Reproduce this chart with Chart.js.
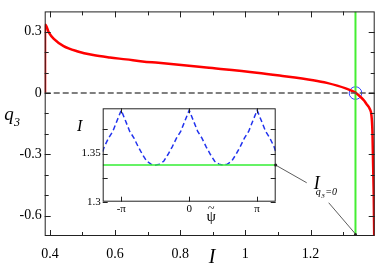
<!DOCTYPE html>
<html>
<head>
<meta charset="utf-8">
<script src="https://cdn.jsdelivr.net/npm/chart.js@4.4.0/dist/chart.umd.min.js"></script>
<style>
  html, body { margin: 0; padding: 0; background: #fff; }
  #wrap { position: relative; width: 382px; height: 266px; }
  canvas { position: absolute; left: 0; top: 0; }
</style>
</head>
<body>
<div id="wrap">
  <canvas id="mainChart" width="382" height="266"></canvas>
  <canvas id="insetChart" width="382" height="266"></canvas>
</div>
<script>
// main panel: q3 versus I
const mainI = [0.385, 0.385, 0.386, 0.397, 0.412, 0.442, 0.483, 0.533, 0.584, 0.634, 0.684, 0.733, 0.88, 1.035, 1.105, 1.208, 1.25, 1.308, 1.338, 1.353, 1.365, 1.372, 1.382, 1.387, 1.390, 1.392, 1.394, 1.3955];
const mainQ = [0.0, 0.31, 0.335, 0.296, 0.265, 0.230, 0.205, 0.186, 0.174, 0.165, 0.155, 0.148, 0.125, 0.100, 0.086, 0.063, 0.050, 0.023, 0.002, -0.018, -0.038, -0.054, -0.078, -0.109, -0.187, -0.343, -0.497, -0.70];
const iZero = 1.338;

const xMajor = [0.4, 0.6, 0.8, 1.0, 1.2];
const xMinor = [0.5, 0.7, 0.9, 1.1, 1.3];
const yMajor = [0.3, 0, -0.3, -0.6];
const yMinor = [0.2, 0.1, -0.1, -0.2, -0.4, -0.5];

// inset: I versus psi
const psi = [-4.0, -3.927, -3.731, -3.534, -3.338, -3.142, -2.945, -2.749, -2.553, -2.356, -2.160, -1.963, -1.767, -1.571, -1.374, -1.178, -0.982, -0.785, -0.589, -0.393, -0.196, 0,
  0.196, 0.393, 0.589, 0.785, 0.982, 1.178, 1.374, 1.571, 1.767, 1.963, 2.160, 2.356, 2.553, 2.749, 2.945, 3.142, 3.338, 3.534, 3.731, 3.927, 4.0];
const insetI = [1.352, 1.357, 1.366, 1.373, 1.384, 1.395, 1.384, 1.373, 1.366, 1.357, 1.349, 1.342, 1.339, 1.338, 1.339, 1.342, 1.349, 1.357, 1.366, 1.373, 1.384, 1.395,
  1.384, 1.373, 1.366, 1.357, 1.349, 1.342, 1.339, 1.338, 1.339, 1.342, 1.349, 1.357, 1.366, 1.373, 1.384, 1.395, 1.384, 1.373, 1.366, 1.357, 1.352];

const psiTicks = [-Math.PI, 0, Math.PI];
const psiLabels = ["-\u03c0", "0", "\u03c0"];
const insetYMajor = [1.3, 1.35];
const insetYMinor = [1.325, 1.375];

const serif = "'Liberation Serif', 'DejaVu Serif', serif";

// draws the frame and inward tick marks on all four sides
function frameTicks(chart, xs, ys, bigLen, smallLen) {
  const ctx = chart.ctx;
  const a = chart.chartArea;
  const sx = chart.scales.x, sy = chart.scales.y;
  ctx.save();
  ctx.strokeStyle = "#222";
  ctx.lineWidth = 1;
  ctx.strokeRect(a.left + 0.5, a.top + 0.5, a.right - a.left - 1, a.bottom - a.top - 1);
  ctx.beginPath();
  xs.forEach(([v, big]) => {
    const px = Math.round(sx.getPixelForValue(v)) + 0.5;
    const l = big ? bigLen : smallLen;
    ctx.moveTo(px, a.bottom); ctx.lineTo(px, a.bottom - l);
    ctx.moveTo(px, a.top); ctx.lineTo(px, a.top + l);
  });
  ys.forEach(([v, big]) => {
    const py = Math.round(sy.getPixelForValue(v)) + 0.5;
    const l = big ? bigLen : smallLen;
    ctx.moveTo(a.left, py); ctx.lineTo(a.left + l, py);
    ctx.moveTo(a.right, py); ctx.lineTo(a.right - l, py);
  });
  ctx.stroke();
  ctx.restore();
}

const mainFrame = {
  id: "mainFrame",
  afterDraw(chart) {
    frameTicks(chart,
      xMajor.map(v => [v, true]).concat(xMinor.map(v => [v, false])),
      yMajor.map(v => [v, true]).concat(yMinor.map(v => [v, false])), 6, 4);
    const ctx = chart.ctx;
    ctx.save();
    ctx.fillStyle = "#000";
    ctx.textAlign = "center";
    ctx.textBaseline = "middle";
    ctx.font = "italic 20px " + serif;
    ctx.fillText("I", 212, 258);
    ctx.font = "italic 19px " + serif;
    ctx.fillText("q", 9, 115);
    ctx.font = "italic 12px " + serif;
    ctx.fillText("3", 17, 123);
    ctx.restore();
  }
};

const mainChart = new Chart(document.getElementById("mainChart"), {
  type: "scatter",
  data: {
    datasets: [
      {
        data: [{ x: 0.384, y: 0 }, { x: 1.397, y: 0 }],
        showLine: true, borderColor: "#555", borderWidth: 1.5, borderDash: [6, 3],
        pointRadius: 0
      },
      {
        data: mainI.map((v, i) => ({ x: v, y: mainQ[i] })),
        showLine: true, borderColor: "#ff0000", borderWidth: 2.5, tension: 0.3,
        cubicInterpolationMode: "monotone", pointRadius: 0
      },
      {
        data: [{ x: iZero, y: 0.4 }, { x: iZero, y: -0.7 }],
        showLine: true, borderColor: "#44ee33", borderWidth: 2, pointRadius: 0
      },
      {
        data: [{ x: iZero, y: 0 }],
        pointStyle: "circle", pointRadius: 6.3, borderColor: "#3344ff",
        borderWidth: 1, backgroundColor: "rgba(0,0,0,0)"
      }
    ]
  },
  options: {
    responsive: false,
    animation: false,
    layout: { padding: { left: 0, top: 1, right: 2.5, bottom: 0 } },
    plugins: { legend: { display: false }, tooltip: { enabled: false } },
    scales: {
      x: {
        type: "linear", min: 0.384, max: 1.397,
        grid: { display: false }, border: { display: false },
        afterBuildTicks: s => { s.ticks = xMajor.map(v => ({ value: v })); },
        afterFit: s => { s.height = 30; },
        ticks: {
          font: { family: serif, size: 14 }, color: "#000", padding: 2, maxRotation: 0,
          callback: v => String(+v.toFixed(2))
        }
      },
      y: {
        type: "linear", min: -0.7, max: 0.4,
        grid: { display: false, drawTicks: false }, border: { display: false },
        afterBuildTicks: s => { s.ticks = yMajor.map(v => ({ value: v })); },
        afterFit: s => { s.width = 44.7; },
        ticks: {
          font: { family: serif, size: 14 }, color: "#000", padding: 3,
          callback: v => String(+v.toFixed(2))
        }
      }
    }
  },
  plugins: [mainFrame]
});

const insetFrame = {
  id: "insetFrame",
  beforeDraw(chart) {
    const a = chart.chartArea;
    chart.ctx.save();
    chart.ctx.fillStyle = "#fff";
    chart.ctx.fillRect(a.left, a.top, a.right - a.left, a.bottom - a.top);
    chart.ctx.restore();
  },
  afterDraw(chart) {
    frameTicks(chart,
      psiTicks.map(v => [v, true]),
      insetYMajor.map(v => [v, true]).concat(insetYMinor.map(v => [v, true])), 5, 4);
    const ctx = chart.ctx;
    const a = chart.chartArea;
    ctx.save();
    ctx.fillStyle = "#000";
    ctx.textAlign = "center";
    ctx.textBaseline = "middle";
    ctx.font = "italic 16px " + serif;
    ctx.fillText("I", a.left - 23, 127);
    ctx.font = "15px " + serif;
    const px = chart.scales.x.getPixelForValue(0) + 22;
    ctx.fillText("\u03c8", px, a.bottom + 15);
    ctx.font = "12px " + serif;
    ctx.fillText("~", px, a.bottom + 7);

    // annotation pointing at I_{q3=0}
    const mx = mainChart.scales.x, my = mainChart.scales.y;
    const ax = chart.scales.x.getPixelForValue(4), ay = chart.scales.y.getPixelForValue(iZero);
    const bx = mx.getPixelForValue(iZero), by = my.getPixelForValue(-0.7);
    const lx = mx.getPixelForValue(1.219), ly = my.getPixelForValue(-0.449);
    ctx.strokeStyle = "#333";
    ctx.lineWidth = 0.8;
    ctx.beginPath();
    ctx.moveTo(ax, ay); ctx.lineTo(lx - 10, ly - 2);
    ctx.moveTo(lx + 12, ly + 18); ctx.lineTo(bx, by - 2);
    ctx.stroke();
    ctx.fillStyle = "#222";
    ctx.beginPath(); ctx.arc(ax, ay, 1.5, 0, Math.PI * 2); ctx.fill();
    ctx.beginPath(); ctx.arc(bx, by - 1.5, 1.5, 0, Math.PI * 2); ctx.fill();
    ctx.fillStyle = "#000";
    ctx.font = "italic 18px " + serif;
    ctx.fillText("I", lx, ly);
    ctx.textAlign = "left";
    ctx.font = "italic 10px " + serif;
    ctx.fillText("q", lx - 1, ly + 8);
    ctx.font = "italic 7px " + serif;
    ctx.fillText("3", lx + 4.5, ly + 11);
    ctx.font = "italic 10px " + serif;
    ctx.fillText("=0", lx + 8.5, ly + 8);
    ctx.restore();
  }
};

new Chart(document.getElementById("insetChart"), {
  type: "scatter",
  data: {
    datasets: [
      {
        data: [{ x: -4, y: iZero }, { x: 4, y: iZero }],
        showLine: true, borderColor: "#33ee33", borderWidth: 1.5, pointRadius: 0
      },
      {
        data: psi.map((v, i) => ({ x: v, y: insetI[i] })),
        showLine: true, borderColor: "#2233ee", borderWidth: 1.5, borderDash: [5, 3],
        pointRadius: 0
      }
    ]
  },
  options: {
    responsive: false,
    animation: false,
    layout: { padding: { left: 72.7, top: 108.3, right: 106.3, bottom: 50.3 } },
    plugins: { legend: { display: false }, tooltip: { enabled: false } },
    scales: {
      x: {
        type: "linear", min: -4, max: 4,
        grid: { display: false, drawTicks: false }, border: { display: false },
        afterBuildTicks: s => { s.ticks = psiTicks.map(v => ({ value: v })); },
        afterFit: s => { s.height = 14; },
        ticks: {
          font: { family: serif, size: 11 }, color: "#000", padding: 1, maxRotation: 0,
          callback: (v, i) => psiLabels[i]
        }
      },
      y: {
        type: "linear", min: 1.3, max: 1.397,
        grid: { display: false, drawTicks: false }, border: { display: false },
        afterBuildTicks: s => { s.ticks = insetYMajor.map(v => ({ value: v })); },
        afterFit: s => { s.width = 30; },
        ticks: {
          font: { family: serif, size: 11 }, color: "#000", padding: 2,
          callback: v => String(+v.toFixed(2))
        }
      }
    }
  },
  plugins: [insetFrame]
});
</script>
</body>
</html>
